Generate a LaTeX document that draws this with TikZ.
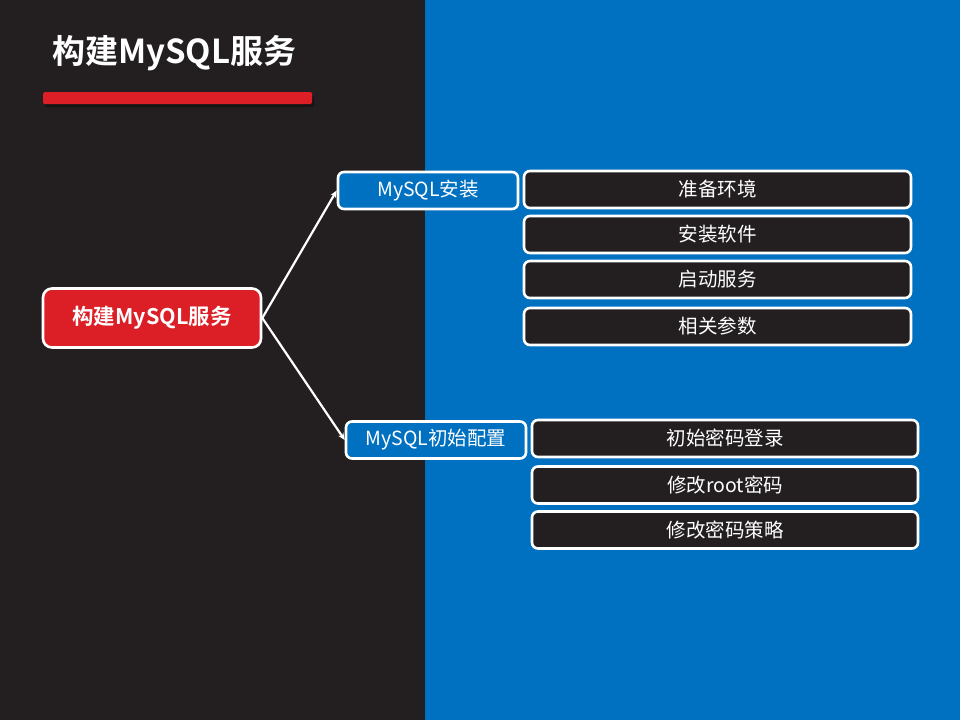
\documentclass[tikz,border=0pt]{standalone}
\usepackage{fontspec}
\setmainfont{Noto Sans CJK SC}
\newfontfamily\cjkb{Noto Sans CJK SC Bold}
\usetikzlibrary{arrows.meta,shadows}
\definecolor{darkbg}{HTML}{231F20}
\definecolor{bluebg}{HTML}{0070C0}
\definecolor{redc}{HTML}{DC1F26}
\tikzset{
  x=1pt,y=-1pt,
  wbox/.style={draw=white,line width=2.6pt,rounded corners=6pt,text=white,font=\fontsize{19.5}{22}\selectfont,inner sep=0pt},
  darkbox/.style={wbox,fill=darkbg},
  bluebox/.style={wbox,fill=bluebg},
  conn/.style={draw=white,line width=2.2pt,-{Stealth[length=7pt,width=6pt]}}
}
\begin{document}
\begin{tikzpicture}
\useasboundingbox (0,0) rectangle (960,720);
\fill[darkbg] (0,0) rectangle (425,720);
\fill[bluebg] (425,0) rectangle (960,720);
% title
\node[text=white,font=\cjkb\fontsize{33}{38}\selectfont,anchor=west,inner sep=0pt] (title) at (52,53) {构建MySQL服务};
\fill[black,opacity=0.35,rounded corners=1.5pt] (45,96) rectangle (314,107);
\fill[redc,rounded corners=1.5pt] (43,92) rectangle (312,104);
% main node
\node[wbox,fill=redc,rounded corners=9pt,minimum width=218pt,minimum height=59pt,font=\cjkb\fontsize{21.5}{26}\selectfont] (main) at (152,318) {构建MySQL服务};
% branch nodes
\node[bluebox,minimum width=180pt,minimum height=37pt] (inst) at (428,190.5) {MySQL安装};
\node[bluebox,minimum width=180pt,minimum height=37pt] (cfg) at (436,440) {MySQL初始配置};
% leaves group 1
\node[darkbox,minimum width=387pt,minimum height=37pt] (a1) at (717.5,189.5) {准备环境};
\node[darkbox,minimum width=387pt,minimum height=37pt] (a2) at (717.5,234.5) {安装软件};
\node[darkbox,minimum width=387pt,minimum height=37pt] (a3) at (717.5,279.5) {启动服务};
\node[darkbox,minimum width=387pt,minimum height=37pt] (a4) at (717.5,326.5) {相关参数};
% leaves group 2
\node[darkbox,minimum width=386pt,minimum height=37pt] (b1) at (725,438.5) {初始密码登录};
\node[darkbox,minimum width=386pt,minimum height=37pt] (b2) at (725,485) {修改root密码};
\node[darkbox,minimum width=386pt,minimum height=37pt] (b3) at (725,530) {修改密码策略};
% connectors
\draw[conn] (main.east) -- (inst.west);
\draw[conn] (main.east) -- (cfg.west);
\end{tikzpicture}
\end{document}
